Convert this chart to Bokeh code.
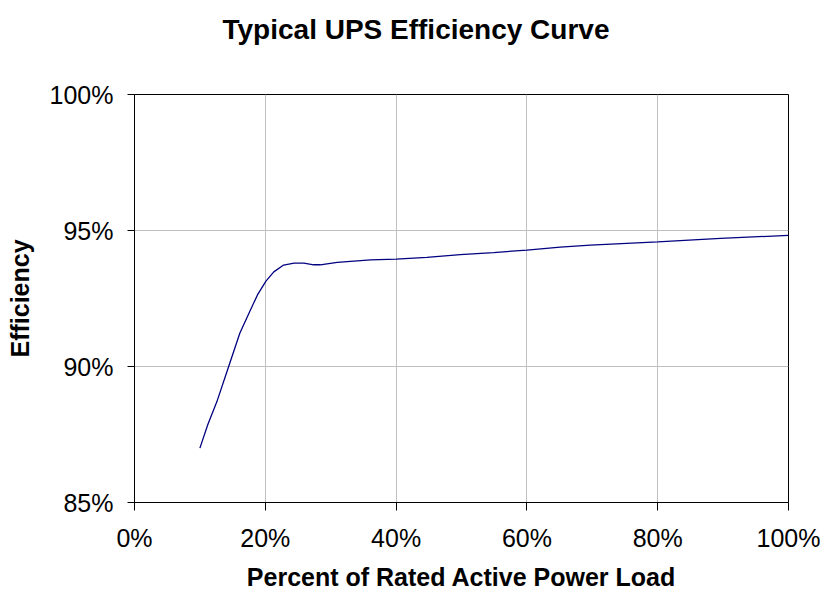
from bokeh.plotting import figure
from bokeh.models import Range1d, FixedTicker, PrintfTickFormatter, Title
from bokeh.embed import file_html
from bokeh.resources import INLINE

load_pct = [10.0, 11.2, 12.6, 14.4, 16.1, 17.5, 18.8, 20.1, 21.3, 22.8, 24.4, 25.9,
            27.4, 28.4, 31.0, 36.1, 40.0, 44.7, 49.8, 54.9, 60.0, 65.1, 69.7, 80.0,
            89.6, 100.0]
efficiency = [87.0, 87.86, 88.71, 90.0, 91.22, 91.96, 92.63, 93.14, 93.48, 93.73, 93.80,
              93.80, 93.74, 93.74, 93.83, 93.92, 93.95, 94.01, 94.11, 94.19, 94.28, 94.39,
              94.46, 94.58, 94.71, 94.82]
x_ticks = [0, 20, 40, 60, 80, 100]
y_ticks = [85, 90, 95, 100]
title_text = "Typical UPS Efficiency Curve"
x_title = "Percent of Rated Active Power Load"
y_title = "Efficiency"

FONT = "Liberation Sans"

p = figure(width=822, height=593, output_backend="svg", toolbar_location=None,
           x_range=Range1d(0, 100), y_range=Range1d(85, 100),
           min_border_left=134, min_border_right=34, min_border_top=94, min_border_bottom=90)

xa = p.below[0]
ya = p.left[0]

# blank white spacer title between frame and the real title (outermost)
p.add_layout(Title(text=" ", text_font=FONT, text_font_size="18px",
                   text_color="white", standoff=22), "above")
p.add_layout(Title(text=title_text, align="left", offset=88, vertical_align="top",
                   text_font=FONT, text_font_size="28px", text_font_style="bold",
                   text_color="black", standoff=8), "above")

p.line(load_pct, efficiency, line_color="#000080", line_width=1.3)

p.outline_line_color = "black"
p.outline_line_width = 1
p.background_fill_color = "white"
p.border_fill_color = "white"

for ax in (xa, ya):
    ax.axis_line_color = "black"
    ax.major_tick_line_color = "black"
    ax.minor_tick_line_color = None
    ax.major_tick_in = 0
    ax.major_label_text_font = FONT
    ax.major_label_text_font_size = "25px"
    ax.major_label_text_color = "black"
    ax.axis_label_text_font = FONT
    ax.axis_label_text_font_size = "25px"
    ax.axis_label_text_font_style = "bold"
    ax.axis_label_text_color = "black"
    ax.formatter = PrintfTickFormatter(format="%d%%")

xa.ticker = FixedTicker(ticks=x_ticks)
ya.ticker = FixedTicker(ticks=y_ticks)
xa.major_tick_out = 8
ya.major_tick_out = 7
xa.major_label_standoff = 13
ya.major_label_standoff = 14
xa.axis_label = x_title
ya.axis_label = y_title
xa.axis_label_standoff = 8
ya.axis_label_standoff = 13

p.xgrid.grid_line_color = "#C0C0C0"
p.ygrid.grid_line_color = "#C0C0C0"
p.xgrid.ticker = FixedTicker(ticks=x_ticks)
p.ygrid.ticker = FixedTicker(ticks=y_ticks)

open("out.html", "w").write(file_html(p, INLINE))
